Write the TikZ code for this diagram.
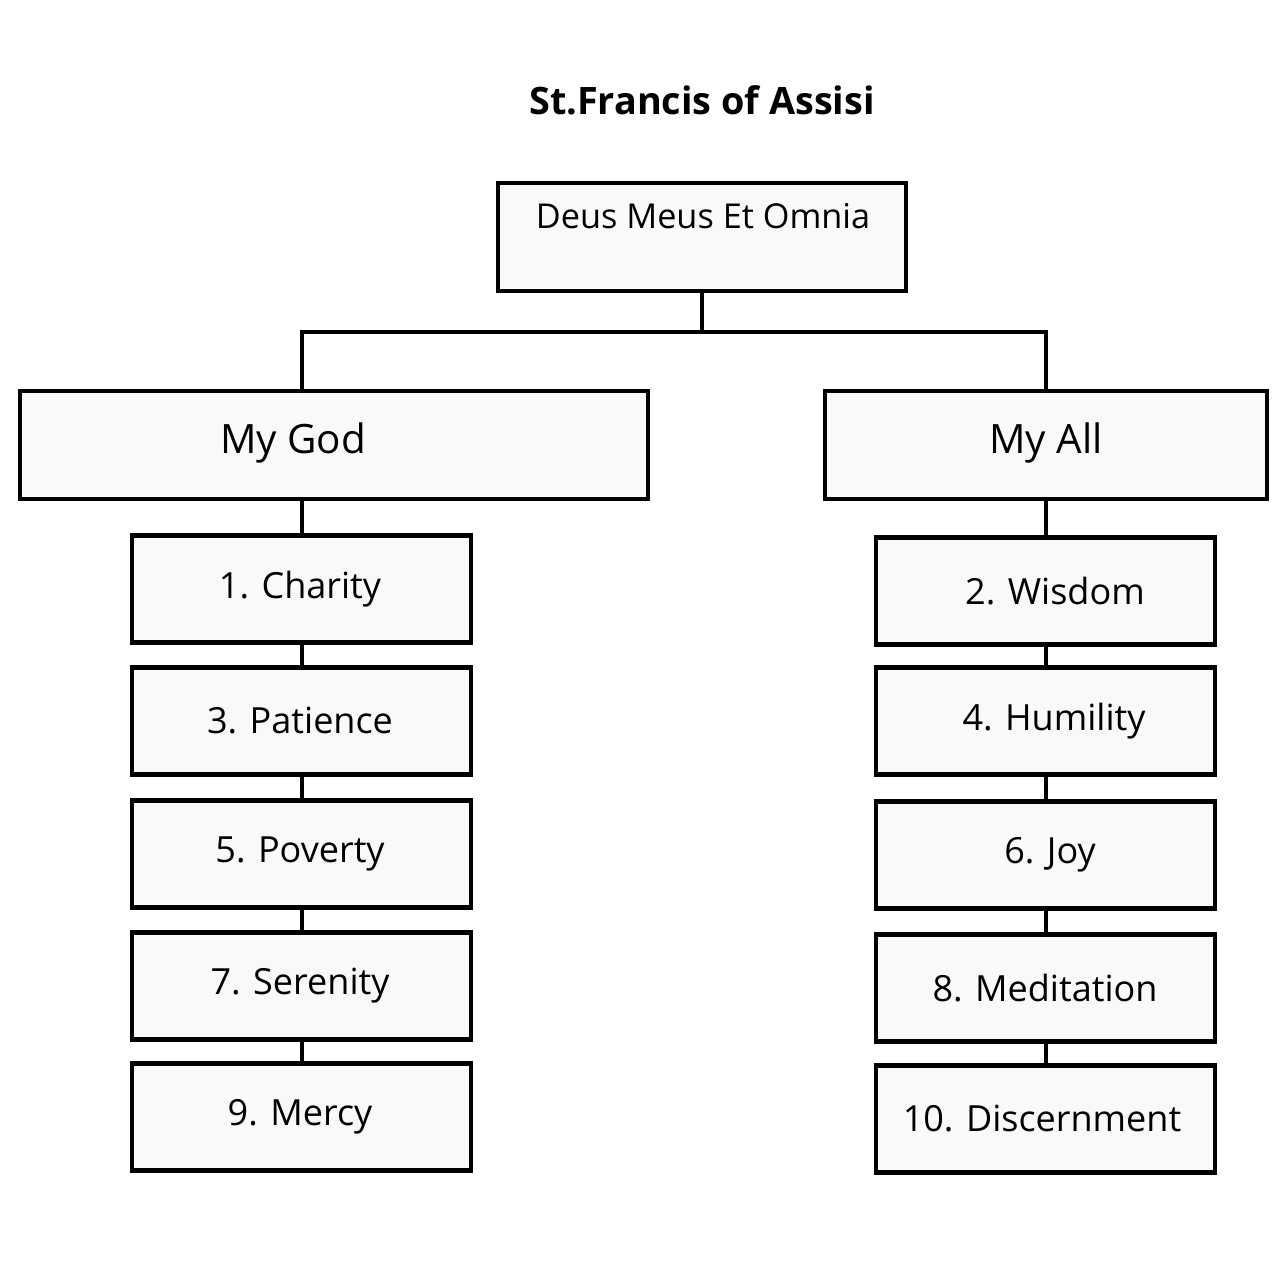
\documentclass[tikz,border=0pt]{standalone}
\usepackage{fontspec}
\setmainfont{Open Sans}
\begin{document}
\begin{tikzpicture}[x=0.02cm,y=-0.02cm,
  box/.style={draw=black,line width=2.3pt,fill={rgb,255:red,249;green,249;blue,249},inner sep=0pt},
  item/.style={font=\fontsize{20.5}{24}\selectfont},
  conn/.style={line width=2.3pt}]
\useasboundingbox (0,0) rectangle (1280,1280);
\node[font=\fontsize{21.5}{26}\selectfont\bfseries] (title) at (702,100) {St.Francis of Assisi};
% connectors first
\coordinate (j) at (702,332);
\coordinate (jl) at (302,332);
\coordinate (jr) at (1046,332);
\draw[conn] (702,291) -- (j) -- (jl) -- (302,391);
\draw[conn] (j) -- (jr) -- (1046,391);
\draw[conn] (302,499) -- (302,1064);
\draw[conn] (1046,499) -- (1046,1065);
\node[box,minimum width=408*0.02cm,minimum height=108*0.02cm] (root) at (702,237) {};
\node[font=\fontsize{19.5}{24}\selectfont] (roott) at (703,216) {Deus Meus Et Omnia};
\node[box,minimum width=628*0.02cm,minimum height=108*0.02cm] (god) at (334,445) {};
\node[font=\fontsize{23}{28}\selectfont] at (293,443) {My God};
\node[box,minimum width=442*0.02cm,minimum height=108*0.02cm] (all) at (1046,445) {};
\node[font=\fontsize{23}{28}\selectfont] at (1046,443) {My All};
\foreach \y/\t [count=\i] in {589/1. Charity,721/3. Patience,854/5. Poverty,986/7. Serenity,1117/9. Mercy}{
  \node[box,minimum width=339*0.02cm,minimum height=107*0.02cm] (l\i) at (301.5,\y) {};
  \node[item] at (300,\y) {\t};
}
\foreach \y/\t/\xx [count=\i] in {591/2. Wisdom/1055,721/4. Humility/1054,855/6. Joy/1050,988/8. Meditation/1045,1119/10. Discernment/1042}{
  \node[box,minimum width=339*0.02cm,minimum height=107*0.02cm] (r\i) at (1045.5,\y) {};
  \node[item] at (\xx,\y) {\t};
}
\end{tikzpicture}
\end{document}
